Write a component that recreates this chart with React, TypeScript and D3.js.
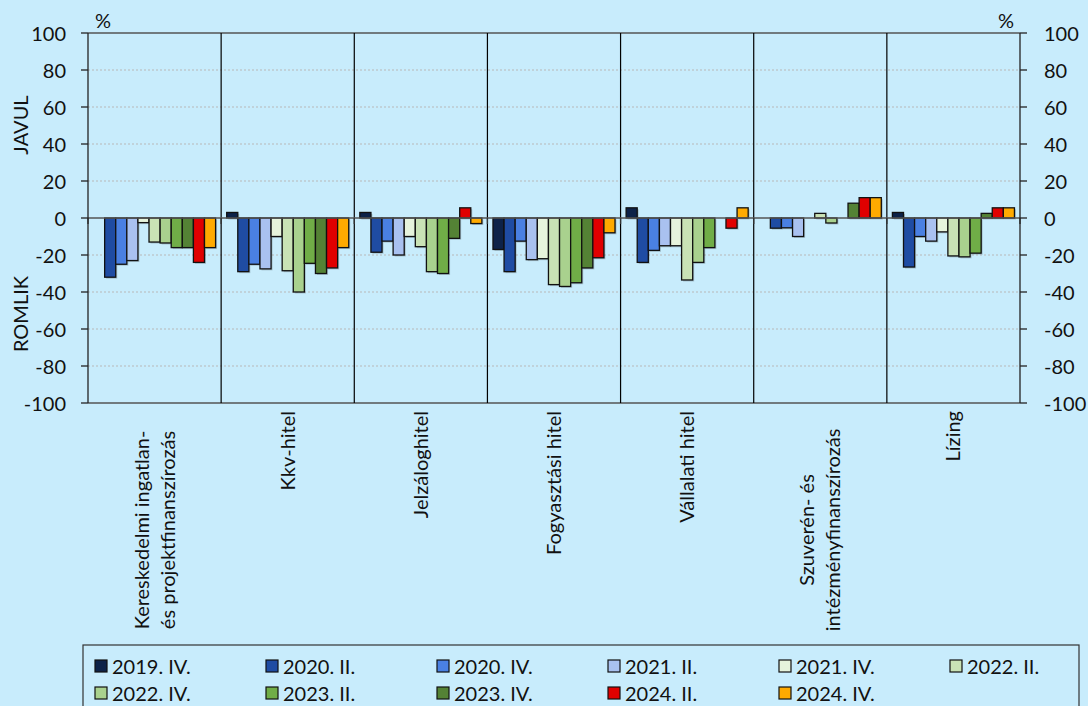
import React from "react";
import * as d3 from "d3";

const categoryLabels: string[][] = [
  ["Kereskedelmi ingatlan-", "és projektfinanszírozás"],
  ["Kkv-hitel"],
  ["Jelzáloghitel"],
  ["Fogyasztási hitel"],
  ["Vállalati hitel"],
  ["Szuverén- és", "intézményfinanszírozás"],
  ["Lízing"],
];

const seriesNames = [
  "2019. IV.", "2020. II.", "2020. IV.", "2021. II.", "2021. IV.", "2022. II.",
  "2022. IV.", "2023. II.", "2023. IV.", "2024. II.", "2024. IV.",
];

const seriesColors = [
  "#0d2248", "#1f4ca3", "#4a80e2", "#a9c1f0", "#e6f3dc", "#c9e2b5",
  "#a9d18e", "#70ad47", "#548235", "#e00000", "#ffaa00",
];

const s2019IV = [0, 3, 3, -17, 5.5, 0, 3];
const s2020II = [-32, -29, -18.5, -29, -24, -5.5, -26.5];
const s2020IV = [-25, -25, -12.5, -12.5, -17.5, -5.3, -10];
const s2021II = [-23, -27.5, -20, -22.5, -15, -10, -12.5];
const s2021IV = [-2.5, -10, -10, -22, -15, 0, -7.5];
const s2022II = [-13, -28.5, -15.5, -36, -33.5, 2.5, -20.5];
const s2022IV = [-13.5, -40, -29, -37, -24, -2.7, -21];
const s2023II = [-16, -24.5, -30, -35, -16, 0, -19];
const s2023IV = [-16, -30, -11, -27, 0, 8, 2.5];
const s2024II = [-24, -27, 5.5, -21.5, -5.5, 11, 5.5];
const s2024IV = [-16, -16, -3, -8, 5.5, 11, 5.5];

const seriesValues = [
  s2019IV, s2020II, s2020IV, s2021II, s2021IV, s2022II,
  s2022IV, s2023II, s2023IV, s2024II, s2024IV,
];

const yTicks = [-100, -80, -60, -40, -20, 0, 20, 40, 60, 80, 100];

const W = 1088;
const H = 706;
const BG = "#c8ecfc";
const FONT = "Lato, 'Open Sans', sans-serif";

export default function App() {
  const left = 88, right = 1020, top = 33, bottom = 403;
  const y = d3.scaleLinear().domain([-100, 100]).range([bottom, top]);
  const catIdx = categoryLabels.map((_, i) => String(i));
  const x0 = d3.scaleBand<string>().domain(catIdx).range([left, right]).padding(0);
  const x1 = d3.scaleBand<string>()
    .domain(seriesNames)
    .range([0, x0.bandwidth()])
    .paddingInner(0)
    .paddingOuter(0.5);

  const fs = 20;

  return (
    <svg width={W} height={H} style={{ position: "absolute", left: 0, top: 0, display: "block" }} fontFamily={FONT}>
      <rect x={0} y={0} width={W} height={H} fill={BG} />
      {/* gridlines */}
      {yTicks.filter((t) => t !== 0 && Math.abs(t) !== 100).map((t) => (
        <line key={"g" + t} x1={left} x2={right} y1={y(t)} y2={y(t)} stroke="#b8b8b8" strokeWidth={1} strokeDasharray="2,2" />
      ))}
      {/* top and bottom frame */}
      <line x1={left} x2={right} y1={y(100)} y2={y(100)} stroke="#555" strokeWidth={1.3} />
      <line x1={left} x2={right} y1={y(-100)} y2={y(-100)} stroke="#555" strokeWidth={1.3} />
      {/* category separators */}
      {catIdx.slice(1).map((c) => (
        <line key={"sep" + c} x1={x0(c)!} x2={x0(c)!} y1={top} y2={bottom} stroke="#000" strokeWidth={1.2} />
      ))}
      {/* bars */}
      {seriesValues.map((vals, si) =>
        vals.map((v, ci) => {
          if (v === 0) return null;
          const bx = x0(String(ci))! + x1(seriesNames[si])!;
          const by = Math.min(y(v), y(0));
          const bh = Math.abs(y(v) - y(0));
          return (
            <g key={`b${si}-${ci}`}>
              <rect x={bx + 1.5} y={by + 1.5} width={x1.bandwidth()} height={bh} fill="rgba(0,0,0,0.18)" />
              <rect x={bx} y={by} width={x1.bandwidth()} height={bh} fill={seriesColors[si]} stroke="#111" strokeWidth={1.3} />
            </g>
          );
        })
      )}
      {/* zero line */}
      <line x1={left} x2={right} y1={y(0)} y2={y(0)} stroke="#555" strokeWidth={1.5} />
      {catIdx.map((c) => (
        <line key={"zt" + c} x1={x0(c)!} x2={x0(c)!} y1={y(0)} y2={y(0) + 6} stroke="#333" strokeWidth={1.3} />
      ))}
      <line x1={right} x2={right} y1={y(0)} y2={y(0) + 6} stroke="#333" strokeWidth={1.3} />
      {/* left axis */}
      <line x1={left} x2={left} y1={top} y2={bottom} stroke="#222" strokeWidth={1.3} />
      {yTicks.map((t) => (
        <g key={"l" + t}>
          <line x1={left - 7} x2={left} y1={y(t)} y2={y(t)} stroke="#222" strokeWidth={1.3} />
          <text x={66} y={y(t)} textAnchor="end" dominantBaseline="central" fontSize={fs} fill="#111">{t}</text>
        </g>
      ))}
      {/* right axis */}
      <line x1={right} x2={right} y1={top} y2={bottom} stroke="#222" strokeWidth={1.3} />
      {yTicks.map((t) => (
        <g key={"r" + t}>
          <line x1={right} x2={right + 7} y1={y(t)} y2={y(t)} stroke="#222" strokeWidth={1.3} />
          <text x={1044} y={y(t)} textAnchor="start" dominantBaseline="central" fontSize={fs} fill="#111">{t}</text>
        </g>
      ))}
      {/* % units */}
      <text x={103} y={20} textAnchor="middle" dominantBaseline="central" fontSize={fs} fill="#111">%</text>
      <text x={1006} y={20} textAnchor="middle" dominantBaseline="central" fontSize={fs} fill="#111">%</text>
      {/* axis side titles */}
      <text transform={`translate(28,${125}) rotate(-90)`} textAnchor="middle" fontSize={fs} fill="#111">JAVUL</text>
      <text transform={`translate(28,${314}) rotate(-90)`} textAnchor="middle" fontSize={fs} fill="#111">ROMLIK</text>
      {/* category labels */}
      {categoryLabels.map((lines, ci) => {
        const cx = x0(String(ci))! + x0.bandwidth() / 2;
        const lh = 26;
        if (lines.length === 1) {
          return (
            <text key={"cl" + ci} transform={`translate(${cx + 7},${411}) rotate(-90)`} textAnchor="end" fontSize={fs} fill="#111">
              {lines[0]}
            </text>
          );
        }
        return (
          <text key={"cl" + ci} transform={`translate(${cx - lh / 2 + 7},${530}) rotate(-90)`} textAnchor="middle" fontSize={fs} fill="#111">
            {lines.map((ln, li) => (
              <tspan key={li} x={0} dy={li === 0 ? 0 : lh}>{ln}</tspan>
            ))}
          </text>
        );
      })}
      {/* legend */}
      <rect x={83} y={645} width={996} height={70} fill={BG} stroke="#333" strokeWidth={1.2} />
      {seriesNames.map((name, i) => {
        const col = i % 6;
        const row = Math.floor(i / 6);
        const lx = 95 + col * 171;
        const ly = 666 + row * 27;
        return (
          <g key={"lg" + i}>
            <rect x={lx} y={ly - 6} width={12} height={12} fill={seriesColors[i]} stroke="#111" strokeWidth={1.2} />
            <text x={lx + 17} y={ly} dominantBaseline="central" fontSize={fs} fill="#111">{name}</text>
          </g>
        );
      })}
    </svg>
  );
}
